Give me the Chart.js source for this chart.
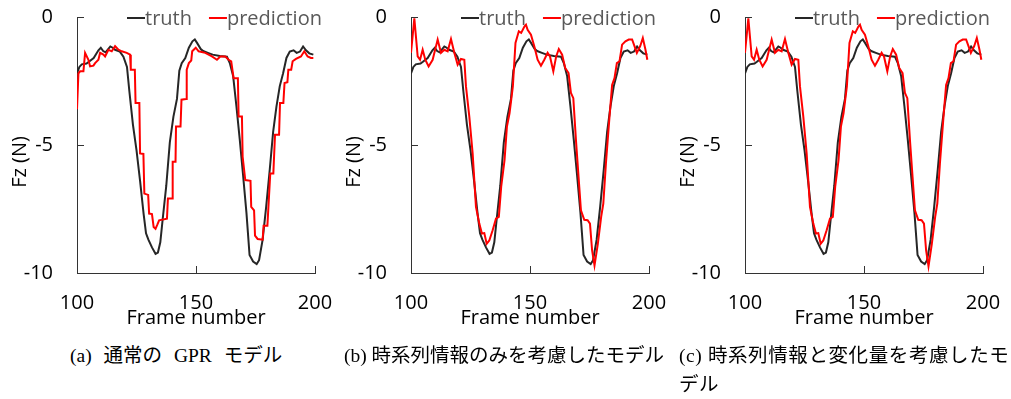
<!DOCTYPE html>
<html>
<head>
<meta charset="utf-8">
<script src="https://cdn.jsdelivr.net/npm/chart.js@4.4.1/dist/chart.umd.min.js"></script>
<style>
  body { margin: 0; width: 1011px; height: 399px; background: #fff; position: relative; overflow: hidden; }
  canvas { position: absolute; top: 0; }
  .caption {
    position: absolute;
    font-family: 'Liberation Serif', 'Noto Sans CJK JP', serif;
    font-size: 19.5px;
    line-height: 29px;
    color: #000;
    white-space: nowrap;
  }
</style>
</head>
<body>
<canvas id="chartA" width="335" height="340" style="left:0px"></canvas>
<canvas id="chartB" width="335" height="340" style="left:334px"></canvas>
<canvas id="chartC" width="335" height="340" style="left:668px"></canvas>

<div class="caption" style="left:70px; top:341px; word-spacing:7px">(a) 通常の GPR モデル</div>
<div class="caption" style="left:344px; top:341px">(b) 時系列情報のみを考慮したモデル</div>
<div class="caption" style="left:679px; top:341px; letter-spacing:0.6px">(c) 時系列情報と変化量を考慮したモ<br>デル</div>

<script>
// --- DATA ---
const xTicks = [100, 150, 200];
const yTicks = [-10, -5, 0];

// ground truth (same in all three panels)
const truthFrames = [100, 101, 102, 104, 105, 107, 109, 110, 111, 112, 114, 115, 116, 118, 119.5, 121, 122, 123.5,
  125, 126.5, 128, 129, 130, 131.5, 133, 134, 135, 136, 137.5, 139, 140.5, 142, 143, 144, 145.5, 147, 148.5, 149.5,
  150.5, 152, 153, 155, 157, 160, 163, 164.2, 165.6, 167, 168.4, 169.8, 171.2, 172.5, 174, 175.5, 176.5, 178, 179.5,
  181, 182.4, 183.8, 185.2, 186.6, 188, 189.4, 191, 192.3, 193.7, 195, 196.2, 197.6, 199.3];
const truthValues = [-2.2, -1.95, -1.85, -1.82, -1.75, -1.6, -1.3, -1.2, -1.33, -1.38, -1.15, -1.2, -1.28, -1.35, -1.55, -1.95, -2.9, -4.2,
  -5.2, -6.4, -7.7, -8.45, -8.7, -9.0, -9.25, -9.2, -8.8, -7.9, -6.6, -4.9, -3.9, -3.2, -2.1, -1.8, -1.6, -1.2, -0.95, -0.88,
  -1.02, -1.25, -1.33, -1.4, -1.47, -1.52, -1.55, -1.8, -2.3, -3.5, -4.8, -6.2, -7.65, -9.3, -9.55, -9.65, -9.5, -8.7, -7.4,
  -5.95, -4.5, -3.5, -2.7, -2.2, -1.6, -1.35, -1.3, -1.4, -1.35, -1.15, -1.3, -1.42, -1.47];

// (a) plain GPR prediction (staircase shaped)
const predAFrames = [100, 100.6, 101.3, 102.7, 103.4, 104.8, 105.5, 106.9, 107.6, 109, 109.7, 111.1, 111.8, 113.2, 114.6,
  116, 117.4, 118.8, 120.9, 122.3, 122.6, 124.3, 124.6, 126.2, 126.5, 127.9, 128.3, 129.9, 130.3, 131.5, 132.2, 133,
  133.8, 134.5, 137.8, 138.2, 140, 140.2, 141.4, 141.6, 143.5, 143.9, 145.8, 146.1, 147, 148, 148.4, 149.9, 151.1,
  153.9, 156.7, 158.8, 160.2, 162.3, 163.7, 164.8, 165.8, 167.6, 167.9, 169.3, 169.6, 170.7, 172.9, 173.2, 174.4,
  174.8, 175.9, 178, 178.4, 180, 181.2, 182.5, 183.2, 184.9, 185.3, 186.7, 187.2, 188.4, 188.8, 190, 190.6, 192,
  194.1, 195.5, 196.9, 198.3, 199.3];
const predAValues = [-3.6, -2.2, -2.12, -2.12, -1.4, -1.67, -1.93, -1.9, -1.8, -1.67, -1.4, -1.47, -1.54, -1.28, -1.34,
  -1.14, -1.28, -1.34, -1.4, -1.47, -2.06, -2.06, -3.36, -3.36, -5.33, -5.35, -6.9, -6.95, -7.68, -7.7, -8.2, -8.27,
  -8.1, -7.94, -7.88, -7.09, -7.09, -5.65, -5.65, -4.28, -4.28, -3.23, -3.2, -2.06, -1.8, -1.7, -1.34, -1.2, -1.34,
  -1.4, -1.54, -1.67, -1.54, -1.54, -1.67, -1.73, -2.39, -2.39, -3.89, -3.89, -5.46, -6.37, -6.4, -7.42, -7.55,
  -8.54, -8.67, -8.7, -8.15, -8.15, -6.11, -6.11, -4.6, -4.6, -3.36, -3.36, -2.58, -2.55, -2.06, -2.06, -1.73, -1.64,
  -1.54, -1.34, -1.54, -1.6, -1.6];

// (b) time-series model prediction
const predBFrames = [100, 101.4, 102.8, 103.8, 104.9, 106, 107.4, 109.1, 111.2, 112.6, 114, 115.4, 116.8, 118.2, 119.6,
  121, 122.4, 123.1, 124.5, 125.9, 127.3, 128.7, 129.8, 130.8, 131.8, 132.9, 134.3, 135.7, 136.9, 137.9, 139.3, 140.3,
  141.4, 142.8, 143.9, 145.3, 146.3, 147.7, 148.3, 149, 150.4, 151.8, 153.2, 154.6, 156, 157.4, 158.4, 159.8, 161,
  162.1, 163.5, 164.8, 166.2, 167.2, 168.2, 169.3, 170.4, 171.4, 172.8, 174.2, 175.2, 176.1, 177.1, 178.5, 179.9,
  180.8, 181.9, 183.3, 184.5, 185.5, 186.5, 187.6, 188.7, 190.1, 191.5, 192.9, 193.9, 194.9, 196.3, 197.4, 198.5, 199.3];
const predBValues = [-1.4, -0.05, -1.54, -1.67, -1.28, -1.67, -1.93, -1.67, -0.88, -1.4, -1.28, -1.34, -0.86, -1.4, -1.86,
  -1.64, -1.67, -2.71, -3.89, -5.33, -7.42, -8.07, -8.46, -8.44, -8.86, -8.73, -8.33, -7.88, -7.81, -6.63, -5.59, -4.28,
  -3.76, -2.71, -1.01, -0.56, -0.62, -0.36, -0.3, -0.5, -0.69, -1.14, -1.67, -1.9, -1.67, -1.4, -1.54, -2.12, -1.54,
  -1.25, -1.47, -1.99, -2.19, -2.97, -3.17, -4.8, -6.24, -7.55, -7.92, -7.94, -8.07, -9.12, -9.71, -8.86, -7.81,
  -7.29, -5.72, -4.02, -2.65, -2.39, -1.8, -1.73, -1.08, -0.95, -0.88, -0.88, -1.14, -1.4, -1.14, -0.82, -1.27, -1.67];

// (c) time-series + delta model prediction (almost the same as b)
const predCFrames = [100, 101.4, 102.8, 103.8, 104.9, 106, 107.4, 109.1, 111.2, 112.6, 114, 115.4, 116.8, 118.2, 119.6,
  121, 122.4, 123.1, 124.5, 125.9, 127.3, 128.7, 129.8, 130.8, 131.8, 132.9, 134.3, 135.7, 136.9, 137.9, 139.3, 140.3,
  141.4, 142.8, 143.9, 145.3, 146.3, 147.7, 148.3, 149, 150.4, 151.8, 153.2, 154.6, 156, 157.4, 158.4, 159.8, 161,
  162.1, 163.5, 164.8, 166.2, 167.2, 168.2, 169.3, 170.4, 171.4, 172.8, 174.2, 175.2, 176.1, 177.1, 178.5, 179.9,
  180.8, 181.9, 183.3, 184.5, 185.5, 186.5, 187.6, 188.7, 190.1, 191.5, 192.9, 193.9, 194.9, 196.3, 197.4, 198.5, 199.3];
const predCValues = [-1.4, -0.05, -1.54, -1.67, -1.28, -1.67, -1.93, -1.67, -0.88, -1.4, -1.28, -1.34, -0.86, -1.4, -1.86,
  -1.64, -1.67, -2.71, -3.89, -5.33, -7.42, -8.07, -8.46, -8.44, -8.86, -8.73, -8.33, -7.88, -7.81, -6.63, -5.59, -4.28,
  -3.76, -2.71, -1.01, -0.56, -0.62, -0.36, -0.3, -0.5, -0.69, -1.14, -1.67, -1.9, -1.67, -1.4, -1.54, -2.12, -1.54,
  -1.25, -1.47, -1.99, -2.19, -2.97, -3.17, -4.8, -6.24, -7.55, -7.92, -7.94, -8.07, -9.12, -9.74, -8.86, -7.81,
  -7.29, -5.72, -4.02, -2.65, -2.39, -1.8, -1.73, -1.08, -0.95, -0.88, -0.88, -1.14, -1.4, -1.14, -0.82, -1.27, -1.67];

const seriesLabels = ['truth', 'prediction'];
const seriesColors = ['#262626', '#ff0000'];

function toPoints(frames, values) {
    return frames.map((f, i) => ({ x: f, y: values[i] }));
}

// fixed axis box so the plot area lands where the original one is
function fixBox(scale, key, size) {
    scale[key] = size;
    scale.paddingTop = 0;
    scale.paddingBottom = 0;
    scale.paddingLeft = 0;
    scale.paddingRight = 0;
}

// --- OVERLAY: legend inside plot + y title ---
const overlayPlugin = {
    id: 'overlay',
    afterDraw(chart) {
        const ctx = chart.ctx;
        const area = chart.chartArea;

        // y axis title
        ctx.save();
        ctx.font = '20px "Open Sans"';
        ctx.fillStyle = '#000';
        ctx.textAlign = 'center';
        ctx.textBaseline = 'middle';
        ctx.translate(20, 162);
        ctx.rotate(-Math.PI / 2);
        ctx.fillText('Fz (N)', 0, 0);
        ctx.restore();

        // legend
        ctx.save();
        ctx.font = '20px "Open Sans"';
        ctx.textAlign = 'left';
        ctx.textBaseline = 'alphabetic';
        let x = area.left + 50;
        chart.data.datasets.forEach(ds => {
            ctx.strokeStyle = ds.borderColor;
            ctx.lineWidth = 2;
            ctx.beginPath();
            ctx.moveTo(x, 18);
            ctx.lineTo(x + 18, 18);
            ctx.stroke();
            x += 18;
            ctx.fillStyle = '#595959';
            ctx.fillText(ds.label, x, 25);
            x += ctx.measureText(ds.label).width + 17;
        });
        ctx.restore();
    }
};

function makeChart(id, predFrames, predValues) {
    new Chart(document.getElementById(id), {
        type: 'line',
        data: {
            datasets: [
                {
                    label: seriesLabels[0],
                    data: toPoints(truthFrames, truthValues),
                    borderColor: seriesColors[0],
                    borderWidth: 2,
                    pointRadius: 0,
                    tension: 0,
                    order: 1
                },
                {
                    label: seriesLabels[1],
                    data: toPoints(predFrames, predValues),
                    borderColor: seriesColors[1],
                    borderWidth: 2,
                    pointRadius: 0,
                    tension: 0,
                    order: 0
                }
            ]
        },
        options: {
            responsive: false,
            animation: false,
            layout: { padding: { top: 17, right: 20, left: 0, bottom: 0 } },
            plugins: { legend: { display: false }, tooltip: { enabled: false } },
            scales: {
                x: {
                    type: 'linear',
                    min: xTicks[0],
                    max: xTicks[xTicks.length - 1],
                    afterBuildTicks: s => { s.ticks = xTicks.map(v => ({ value: v })); },
                    ticks: { padding: 25, maxRotation: 0, color: '#000' },
                    grid: { drawOnChartArea: false, tickLength: -7, color: '#333' },
                    border: { color: '#333' },
                    title: { display: true, text: 'Frame number', color: '#000', padding: { top: 0, bottom: 10 } },
                    afterFit: s => fixBox(s, 'height', 67)
                },
                y: {
                    min: yTicks[0],
                    max: yTicks[yTicks.length - 1],
                    afterBuildTicks: s => { s.ticks = yTicks.map(v => ({ value: v })); },
                    ticks: { padding: 31, color: '#000' },
                    grid: { drawOnChartArea: false, tickLength: -7, color: '#333' },
                    border: { color: '#333' },
                    afterFit: s => fixBox(s, 'width', 77)
                }
            }
        },
        plugins: [overlayPlugin]
    });
}

function initCharts() {
    Chart.defaults.font.family = '"Open Sans"';
    Chart.defaults.font.size = 20;
    Chart.defaults.color = '#000';

    makeChart('chartA', predAFrames, predAValues);
    makeChart('chartB', predBFrames, predBValues);
    makeChart('chartC', predCFrames, predCValues);
}

document.fonts.load('20px "Open Sans"').then(initCharts, initCharts);
</script>
</body>
</html>
